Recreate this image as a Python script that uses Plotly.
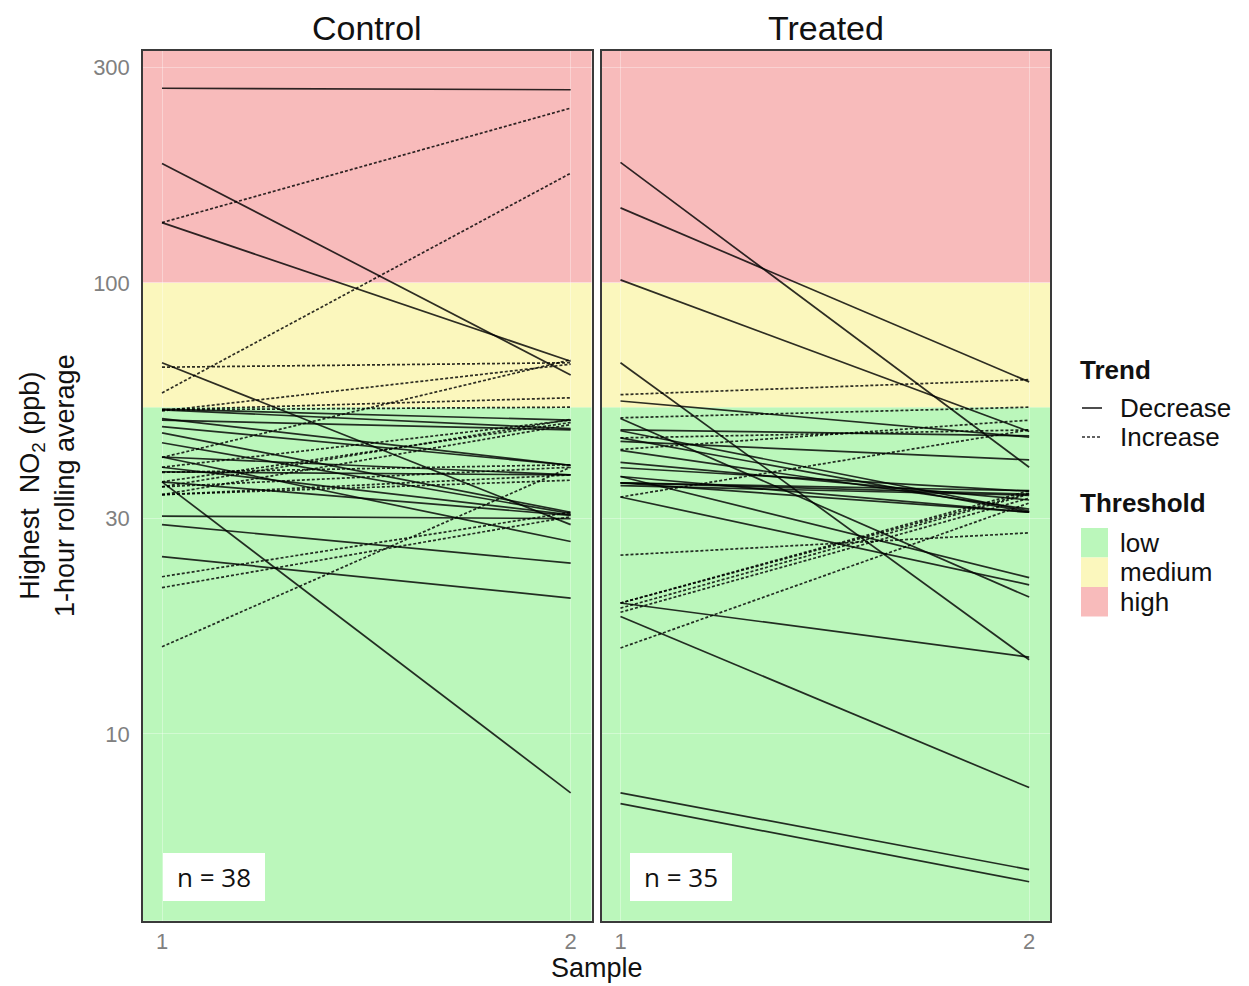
import math
import plotly.graph_objects as go
from plotly.subplots import make_subplots

# ---------------- data ----------------
samples = [1, 2]
panel_names = ["Control", "Treated"]

control_sample1 = [270, 136, 57, 184, 136, 66.5, 65, 52.3, 52.0, 41.0,
                   36.2, 52.5, 49.6, 39.0, 36.2, 33.9, 48.0, 35.3, 33.9, 38.1,
                   15.6, 22.3, 21.1, 24.7, 29.1, 30.4, 44.2, 46.5, 41.1, 50.0,
                   52.3, 41.1, 36.2, 38.0, 33.9, 35.3, 52.3, 39.0]
control_sample2 = [268, 244, 175, 62.5, 67, 29.1, 66.5, 55.6, 66.0, 67.5,
                   7.4, 49.6, 47.2, 49.6, 49.0, 48.5, 39.4, 39.0, 37.5, 37.5,
                   39.0, 31.0, 30.3, 20.0, 23.9, 30.0, 30.8, 31.0, 26.7, 39.4,
                   47.5, 37.5, 30.5, 39.5, 36.5, 49.8, 53.0, 30.6]

treated_sample1 = [185, 146.6, 101.5, 66.5, 56.5, 54.7, 50.2, 50.0, 47.2, 44.5,
                   42.7, 38.9, 37.2, 36.0, 36.0, 33.5, 33.5, 24.9, 19.5, 19.0,
                   18.6, 15.5, 19.5, 18.2, 7.4, 7.0, 47.0, 45.3, 40.0, 35.5,
                   42.5, 37.2, 45.3, 19.5, 36.0]
treated_sample2 = [39, 60.3, 46.8, 14.6, 61.0, 45.5, 53.0, 20.1, 45.8, 40.5,
                   49.6, 34.5, 22.2, 34.0, 31.0, 21.4, 47.2, 27.9, 34.6, 34.0,
                   33.3, 32.5, 14.8, 7.6, 5.0, 4.7, 31.2, 31.0, 33.0, 33.8,
                   31.5, 31.0, 47.2, 34.2, 34.6]

n_labels = ["n = 38", "n = 35"]

y_ticks = [10, 30, 100, 300]
y_tick_labels = ["10", "30", "100", "300"]

threshold_names = ["low", "medium", "high"]
threshold_bounds = [3.85, 53, 100, 330]   # low: <53, medium: 53-100, high: >100
threshold_colors = ["#BBF7BB", "#FBF7BD", "#F8BBBB"]

trend_names = ["Decrease", "Increase"]

# ---------------- figure ----------------
OFF = 8                       # page offset of the figure (body margin)
W, H = 1249 - OFF, 986 - OFF
ML, MT = 143 - OFF, 51 - OFF
PW, PH = 907, 870
MR, MB = W - ML - PW, H - MT - PH

fig = make_subplots(rows=1, cols=2, shared_yaxes=True,
                    horizontal_spacing=10 / PW)

FONT = "Liberation Sans, Arial, sans-serif"
LINE_COL = "rgba(0,0,0,0.82)"
LW = 1.7
DASH = "3px,2px"

panels = [(control_sample1, control_sample2), (treated_sample1, treated_sample2)]
for ci, (s1, s2) in enumerate(panels, start=1):
    xs_dec, ys_dec, xs_inc, ys_inc = [], [], [], []
    for a, b in zip(s1, s2):
        if b > a:
            xs_inc += [samples[0], samples[1], None]
            ys_inc += [a, b, None]
        else:
            xs_dec += [samples[0], samples[1], None]
            ys_dec += [a, b, None]
    fig.add_trace(go.Scatter(x=xs_dec, y=ys_dec, mode="lines", name=trend_names[0],
                             line=dict(color=LINE_COL, width=LW),
                             showlegend=False, hoverinfo="skip"), row=1, col=ci)
    fig.add_trace(go.Scatter(x=xs_inc, y=ys_inc, mode="lines", name=trend_names[1],
                             line=dict(color=LINE_COL, width=LW, dash=DASH),
                             showlegend=False, hoverinfo="skip"), row=1, col=ci)

ylog_range = [0.585, 2.514]


def ydom(v):
    """position of value v as a fraction of the log y-axis domain"""
    f = (math.log10(v) - ylog_range[0]) / (ylog_range[1] - ylog_range[0])
    return min(max(f, 0.0), 1.0)


shapes = []
for xr in ("x", "x2"):
    for lo, hi, col in zip(threshold_bounds[:-1], threshold_bounds[1:], threshold_colors):
        shapes.append(dict(type="rect", xref=f"{xr} domain", yref="y domain",
                           x0=0, x1=1, y0=ydom(lo), y1=ydom(hi),
                           fillcolor=col, line=dict(width=0), layer="below"))

axis_common = dict(showgrid=True, gridcolor="rgba(255,255,255,0.35)", gridwidth=1,
                   zeroline=False, showline=True, mirror=True, linecolor="#3a3a3a",
                   linewidth=1.5, ticks="",
                   tickfont=dict(family=FONT, size=22, color="#808080"))

fig.update_xaxes(range=[0.9535, 2.051], tickvals=samples, ticktext=["1", "2"],
                 ticklabelstandoff=0, **axis_common)
fig.update_yaxes(type="log", range=ylog_range, tickvals=y_ticks,
                 ticktext=y_tick_labels, ticklabelstandoff=7, **axis_common)
fig.update_yaxes(showticklabels=False, row=1, col=2)


def px_x(px):
    return (px - OFF - ML) / PW


def px_y(py):
    return (MT + PH - (py - OFF)) / PH


annotations = []
# strip titles
for name, xr in zip(panel_names, ["x", "x2"]):
    annotations.append(dict(text=name, xref=f"{xr} domain", yref="paper", x=0.5,
                            y=px_y(28), xanchor="center", yanchor="middle",
                            showarrow=False, font=dict(family=FONT, size=34, color="#111")))
# n labels
for lab, xr, xd in zip(n_labels, ["x", "x2"], [20 / 449, 28 / 448]):
    annotations.append(dict(text=lab, xref=f"{xr} domain", yref="y domain",
                            x=xd, y=20 / PH, xanchor="left", yanchor="bottom",
                            showarrow=False, bgcolor="white", borderwidth=0,
                            borderpad=8, width=86, height=32,
                            font=dict(family="Open Sans, sans-serif", size=26, color="#111")))
# axis titles
annotations.append(dict(text="Highest  NO<sub>2</sub> (ppb)<br>1-hour rolling average",
                        xref="paper", yref="paper", x=px_x(47), y=0.5, textangle=-90,
                        xanchor="center", yanchor="middle", showarrow=False,
                        font=dict(family=FONT, size=27, color="#111")))
annotations.append(dict(text="Sample", xref="paper", yref="paper", x=0.5, y=px_y(968),
                        xanchor="center", yanchor="middle", showarrow=False,
                        font=dict(family=FONT, size=27, color="#111")))

# manual legend: Trend
annotations.append(dict(text="<b>Trend</b>", xref="paper", yref="paper", x=px_x(1078),
                        y=px_y(370), xanchor="left", yanchor="middle", showarrow=False,
                        font=dict(family=FONT, size=26, color="#111")))
for name, py, dash in zip(trend_names, [408, 437], ["solid", DASH]):
    shapes.append(dict(type="line", xref="paper", yref="paper", x0=px_x(1082), x1=px_x(1102),
                       y0=px_y(py), y1=px_y(py), line=dict(color=LINE_COL, width=LW, dash=dash)))
    annotations.append(dict(text=name, xref="paper", yref="paper", x=px_x(1118), y=px_y(py),
                            xanchor="left", yanchor="middle", showarrow=False,
                            font=dict(family=FONT, size=26, color="#111")))
# manual legend: Threshold
annotations.append(dict(text="<b>Threshold</b>", xref="paper", yref="paper", x=px_x(1078),
                        y=px_y(503), xanchor="left", yanchor="middle", showarrow=False,
                        font=dict(family=FONT, size=26, color="#111")))
for i, (name, col) in enumerate(zip(threshold_names, threshold_colors)):
    top = 528 + i * 29.5
    shapes.append(dict(type="rect", xref="paper", yref="paper", x0=px_x(1081), x1=px_x(1108),
                       y0=px_y(top + 29.5), y1=px_y(top), fillcolor=col, line=dict(width=0)))
    annotations.append(dict(text=name, xref="paper", yref="paper", x=px_x(1118),
                            y=px_y(top + 14.5), xanchor="left", yanchor="middle",
                            showarrow=False, font=dict(family=FONT, size=26, color="#111")))

fig.update_layout(width=W, height=H, margin=dict(l=ML, r=MR, t=MT, b=MB),
                  plot_bgcolor="rgba(0,0,0,0)", paper_bgcolor="white",
                  shapes=shapes, annotations=annotations, showlegend=False,
                  font=dict(family=FONT))

fig.write_html("out.html")
